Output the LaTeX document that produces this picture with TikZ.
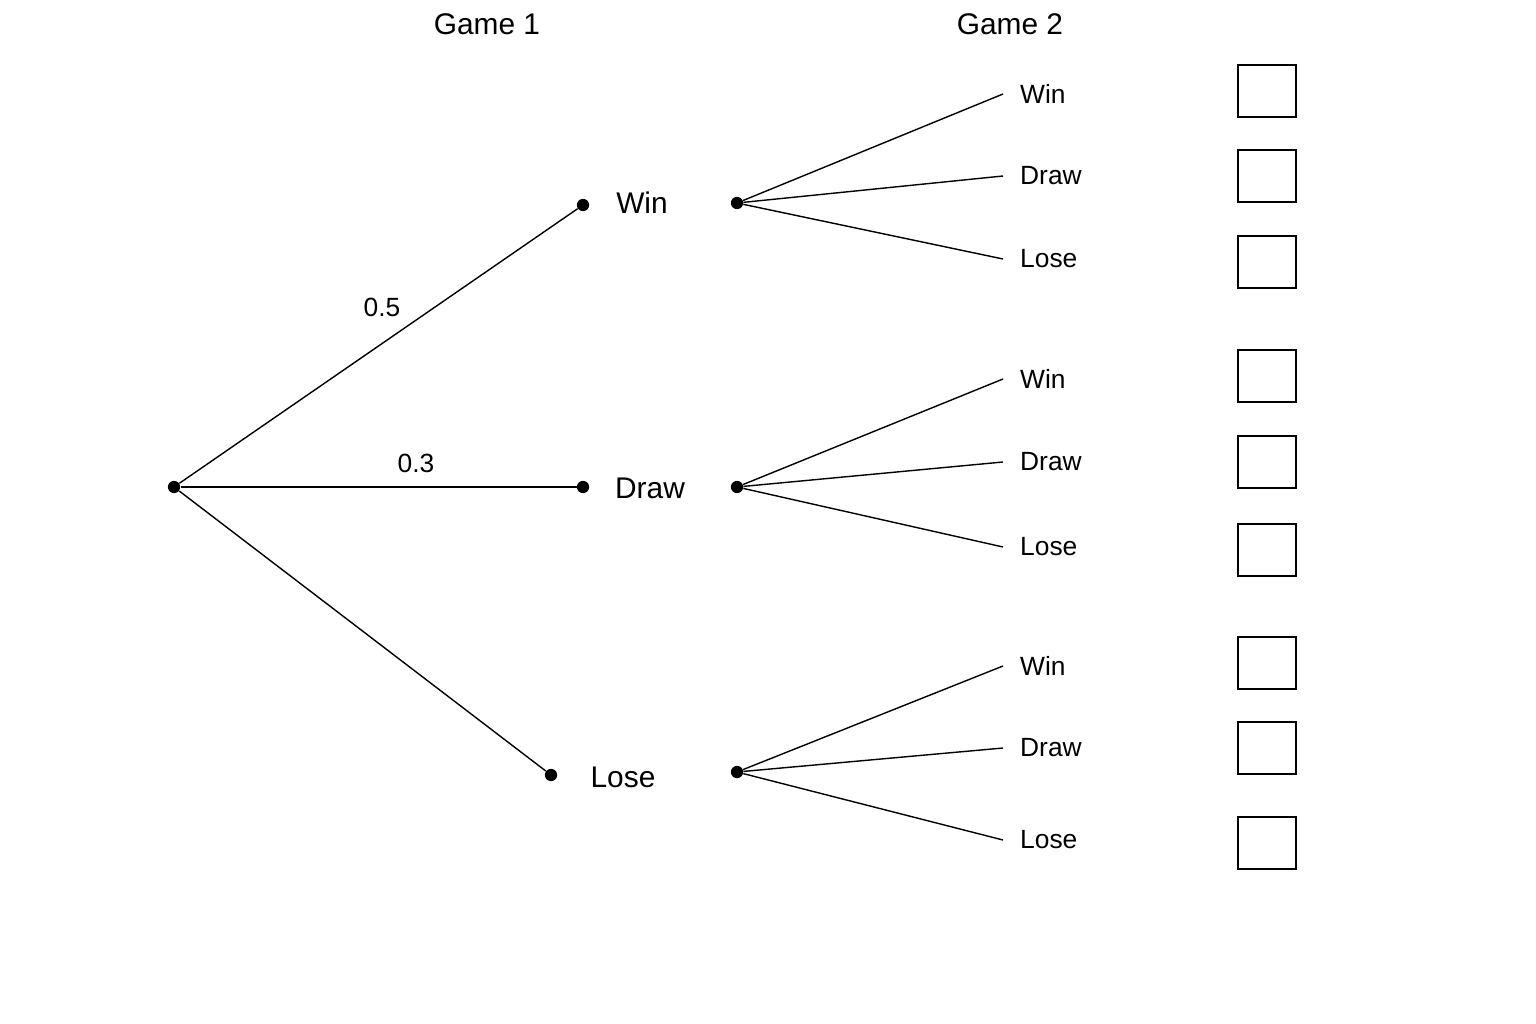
\documentclass[tikz,border=0pt]{standalone}
\usepackage{fontspec}
\setmainfont{Liberation Sans}
\begin{document}
\begin{tikzpicture}[x=0.02cm, y=-0.02cm,
    dot/.style = {circle, fill, inner sep=0pt, minimum size=7pt},
    lbl/.style = {font=\fontsize{17}{20}\selectfont},
    outcome/.style = {font=\fontsize{15}{18}\selectfont, anchor=west},
    box/.style = {draw, thick, minimum width=1.16cm, minimum height=1.04cm},
    branch/.style = {thick}]
        \useasboundingbox (0,0) rectangle (1536,1024);
        \node[lbl] at (487,24) {Game 1};
        \node[lbl] at (1010,24) {Game 2};
        \node[dot] (root) at (174,487) {};
        \node[dot] (w) at (583,205) {};
        \node[dot] (d) at (583,487) {};
        \node[dot] (l) at (551,775) {};
        \node[lbl] (wl) at (642,203) {Win};
        \node[lbl] (dl) at (650,488) {Draw};
        \node[lbl] (ll) at (623,777) {Lose};
        \draw[branch] (root) -- (w);
        \draw[branch] (root) -- (d);
        \draw[branch] (root) -- (l);
        \node[font=\fontsize{15}{18}\selectfont] at (382,307) {0.5};
        \node[font=\fontsize{15}{18}\selectfont] at (416,463) {0.3};
        \foreach \n/\y/\a/\b/\c in {w/203/94/176/259, d/487/379/462/547, l/772/666/748/840} {
            \node[dot] (\n2) at (737,\y) {};
            \coordinate (\n W) at (1003,\a);
            \coordinate (\n D) at (1003,\b);
            \coordinate (\n L) at (1003,\c);
            \draw[branch] (\n2) -- (\n W);
            \draw[branch] (\n2) -- (\n D);
            \draw[branch] (\n2) -- (\n L);
            \node[outcome] at (1014,\a) {Win};
            \node[outcome] at (1014,\b) {Draw};
            \node[outcome] at (1014,\c) {Lose};
            \node[box] at (1267,\a-3) {};
            \node[box] at (1267,\b) {};
            \node[box] at (1267,\c+3) {};
        }
    \end{tikzpicture}
\end{document}
